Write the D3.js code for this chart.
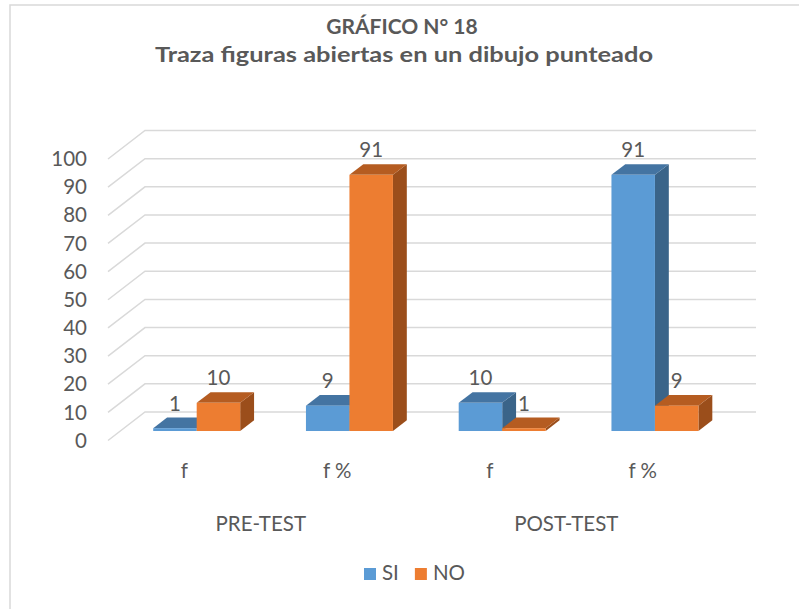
<!DOCTYPE html>
<html>
<head>
<meta charset="utf-8">
<script src="https://cdn.jsdelivr.net/npm/d3@7"></script>
<style>
  body { margin: 0; background: #fff; }
  text { font-family: Lato, "Open Sans", sans-serif; fill: #595959; }
</style>
</head>
<body>
<div id="chart"></div>
<script>
(function() {
  // data
  var groups = ["PRE-TEST", "POST-TEST"]
  var categories = ["f", "f %", "f", "f %"]
  var categoryGroup = [0, 0, 1, 1]
  var seriesNames = ["SI", "NO"]
  var siValues = [1, 9, 10, 91]
  var noValues = [10, 91, 1, 9]
  var yTicks = [0, 10, 20, 30, 40, 50, 60, 70, 80, 90, 100]

  var colors = {
    SI: { front: "#5b9bd5", top: "#4474a2", side: "#3a6489" },
    NO: { front: "#ed7d31", top: "#b55c21", side: "#9b4e1b" }
  }

  var width = 799, height = 609
  var fontSize = 20.5

  var svg = d3.select("#chart")
    .append("svg")
    .attr("width", width)
    .attr("height", height)

  // chart border (only left and top show in the picture)
  svg.append("rect")
    .attr("x", 10).attr("y", 5)
    .attr("width", 820).attr("height", 640)
    .attr("fill", "none")
    .attr("stroke", "#d9d9d9")
    .attr("stroke-width", 1.5)

  // fake 3D: depth goes from front floor edge (0) to back wall (1)
  var depthX = 37, depthY = -28.5

  var xScale = d3.scaleBand()
    .domain(d3.range(categories.length))
    .range([108, 719])

  var xInner = d3.scaleBand()
    .domain(seriesNames)
    .range([0, xScale.bandwidth()])
    .paddingOuter(0.756)

  var yScale = d3.scaleLinear().domain([0, 100]).range([440.5, 159])

  function project(x, v, d) {
    return [x + depthX * d, yScale(v) + depthY * d]
  }
  function pts(arr) { return arr.map(p => p.join(",")).join(" ") }

  // gridlines: diagonal on the left wall, then along the back wall
  var grid = svg.append("g")
  yTicks.forEach(function(t) {
    var a = project(xScale.range()[0], t, 0)
    var b = project(xScale.range()[0], t, 1)
    var c = project(xScale.range()[1], t, 1)
    grid.append("polyline")
      .attr("points", pts([a, b, c]))
      .attr("fill", "none")
      .attr("stroke", "#d9d9d9")
      .attr("stroke-width", 1.5)
  })

  // y tick labels
  svg.append("g")
    .selectAll("text")
    .data(yTicks)
    .enter().append("text")
    .attr("x", 87)
    .attr("y", d => yScale(d))
    .attr("dy", "0.35em")
    .attr("text-anchor", "end")
    .attr("font-size", fontSize)
    .text(d => d)

  // bars
  var d0 = 0.333, d1 = 0.708
  var bars = []
  categories.forEach(function(c, i) {
    bars.push({ i: i, s: "SI", v: siValues[i] })
    bars.push({ i: i, s: "NO", v: noValues[i] })
  })

  var barG = svg.append("g")
  bars.forEach(function(b) {
    var x0 = xScale(b.i) + xInner(b.s)
    var x1 = x0 + xInner.bandwidth()
    var col = colors[b.s]

    // side
    barG.append("polygon")
      .attr("points", pts([project(x1, 0, d0), project(x1, b.v, d0), project(x1, b.v, d1), project(x1, 0, d1)]))
      .attr("fill", col.side)
    // top
    barG.append("polygon")
      .attr("points", pts([project(x0, b.v, d0), project(x1, b.v, d0), project(x1, b.v, d1), project(x0, b.v, d1)]))
      .attr("fill", col.top)
    // front
    var f0 = project(x0, b.v, d0), f1 = project(x1, 0, d0)
    barG.append("rect")
      .attr("x", f0[0]).attr("y", f0[1])
      .attr("width", f1[0] - f0[0])
      .attr("height", f1[1] - f0[1])
      .attr("fill", col.front)
  })

  // data labels
  svg.append("g")
    .selectAll("text")
    .data(bars)
    .enter().append("text")
    .attr("x", d => project(xScale(d.i) + xInner(d.s) + xInner.bandwidth() / 2, d.v, d0)[0])
    .attr("y", d => project(0, d.v, d1)[1] - 14)
    .attr("dy", "0.35em")
    .attr("text-anchor", "middle")
    .attr("font-size", fontSize)
    .text(d => d.v)

  // category labels
  svg.append("g")
    .selectAll("text")
    .data(categories)
    .enter().append("text")
    .attr("x", (d, i) => xScale(i) + xScale.bandwidth() / 2)
    .attr("y", 478)
    .attr("text-anchor", "middle")
    .attr("font-size", fontSize)
    .text(d => d)

  svg.append("g")
    .selectAll("text")
    .data(groups)
    .enter().append("text")
    .attr("x", function(d, g) {
      var idx = d3.range(categories.length).filter(i => categoryGroup[i] === g)
      return (xScale(idx[0]) + xScale(idx[idx.length - 1]) + xScale.bandwidth()) / 2
    })
    .attr("y", 531)
    .attr("text-anchor", "middle")
    .attr("font-size", fontSize)
    .text(d => d)

  // title (the original picture is stretched sideways, so the long line gets a set length)
  svg.append("text")
    .attr("x", 402).attr("y", 34)
    .attr("text-anchor", "middle")
    .attr("font-size", 21)
    .attr("font-weight", "bold")
    .text("GRÁFICO N° 18")
  svg.append("text")
    .attr("x", 404).attr("y", 62)
    .attr("text-anchor", "middle")
    .attr("font-size", 20.5)
    .attr("font-weight", "bold")
    .attr("textLength", 498)
    .attr("lengthAdjust", "spacingAndGlyphs")
    .text("Traza figuras abiertas en un dibujo punteado")

  // legend
  var legend = svg.append("g")
  var lx = 364
  seriesNames.forEach(function(s) {
    legend.append("rect")
      .attr("x", lx).attr("y", 568)
      .attr("width", 12).attr("height", 12)
      .attr("fill", colors[s].front)
    var t = legend.append("text")
      .attr("x", lx + 18).attr("y", 580)
      .attr("font-size", fontSize)
      .text(s)
    lx += 18 + t.node().getComputedTextLength() + 16
  })
})()
</script>
</body>
</html>
